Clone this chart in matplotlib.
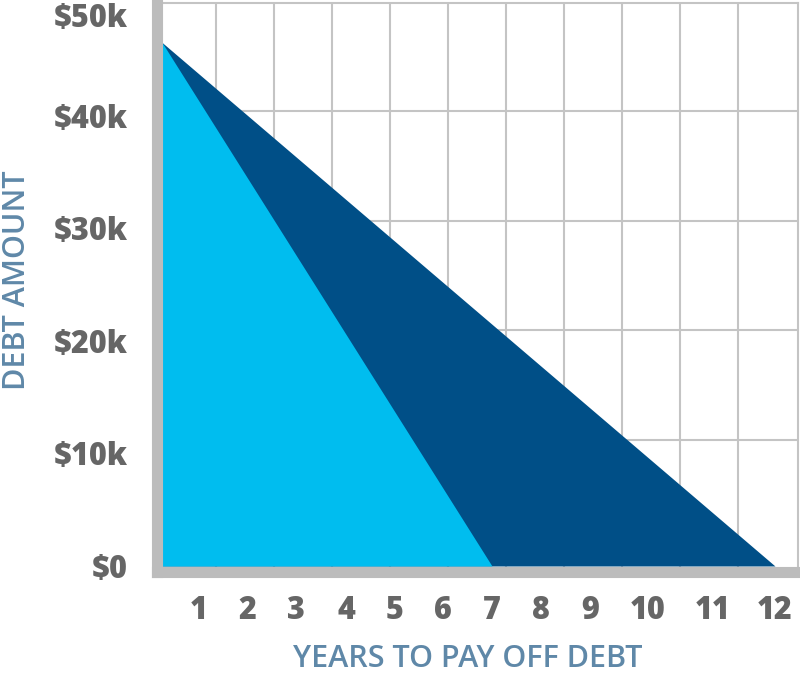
import numpy as np
import matplotlib
matplotlib.use('Agg')
import matplotlib.pyplot as plt

# debt paid off on two schedules, starting from the same balance
fast_years = [0, 7]
fast_debt = [46500, 0]
slow_years = [0, 12]
slow_debt = [46500, 0]

x_ticks = list(range(1, 13))
x_labels = [str(v) for v in x_ticks]
y_ticks = [0, 10000, 20000, 30000, 40000, 50000]
y_labels = ['$0', '$10k', '$20k', '$30k', '$40k', '$50k']

LIGHT = '#00bdef'
DARK = '#004f87'
SPINE = '#bcbcbc'
GRID = '#c4c4c4'
TICK = '#666666'
TITLE = '#5f88a8'

# the year axis in the original is not evenly spaced (two-digit years get more room)
YEAR_ANCHOR = [-1, 0, 1, 2, 3, 4, 5, 6, 7, 8, 9, 10, 11, 12, 13]
SPACE_ANCHOR = [-37, 0, 37, 85, 134, 184, 233, 281, 330, 379, 428, 486, 551, 613, 675]


def fwd(x):
    return np.interp(x, YEAR_ANCHOR, SPACE_ANCHOR)


def inv(u):
    return np.interp(u, SPACE_ANCHOR, YEAR_ANCHOR)


plt.rcParams['font.family'] = ['Open Sans', 'DejaVu Sans']

W, H = 800, 673
fig = plt.figure(figsize=(W / 100, H / 100), dpi=100)
ax = fig.add_axes([156.5 / W, (H - 571.5) / H, 641.5 / W, 568.5 / H])

ax.set_xscale('function', functions=(fwd, inv))
ax.set_xlim(inv(-5.5), inv(636))
ax.set_ylim(-488, 50000)

ax.fill_between(slow_years, slow_debt, 0, color=DARK, lw=0, zorder=2)
ax.fill_between(fast_years, fast_debt, 0, color=LIGHT, lw=0, zorder=2.1)

# background grid
for px in list(216 + 58 * np.arange(10)):
    f = (px - 156.5) / 641.5
    ax.plot([f, f], [0, 1], transform=ax.transAxes, color=GRID, lw=1.5, zorder=1)
for py in [111, 221, 330, 440]:
    f = (571.5 - py) / 568.5
    ax.plot([0, 1], [f, f], transform=ax.transAxes, color=GRID, lw=1.5, zorder=1)

for side in ['left', 'bottom']:
    ax.spines[side].set_color(SPINE)
    ax.spines[side].set_linewidth(8)
    ax.spines[side].set_zorder(3)
for side in ['top', 'right']:
    ax.spines[side].set_color(GRID)
    ax.spines[side].set_linewidth(1.5)

ax.set_xticks(x_ticks)
ax.set_xticklabels(x_labels)
ax.xaxis.set_minor_locator(matplotlib.ticker.NullLocator())
ax.set_yticks(y_ticks)
ax.set_yticklabels(y_labels)
ax.tick_params(axis='both', length=0, labelsize=22, labelcolor=TICK)
ax.tick_params(axis='x', pad=17)
ax.tick_params(axis='y', pad=21)
for lab in ax.get_xticklabels() + ax.get_yticklabels():
    lab.set_fontweight('heavy')
ax.get_yticklabels()[-1].set_verticalalignment('top')

fig.text(468 / W, 1 - 659 / H, 'YEARS TO PAY OFF DEBT', ha='center', va='center',
         fontsize=22, fontweight='semibold', color=TITLE)
fig.text(25 / W, 1 - 280 / H, 'DEBT AMOUNT', ha='center', va='baseline',
         rotation=90, rotation_mode='anchor', fontsize=22, fontweight='semibold',
         color=TITLE)

fig.savefig('out.png', dpi=100)
